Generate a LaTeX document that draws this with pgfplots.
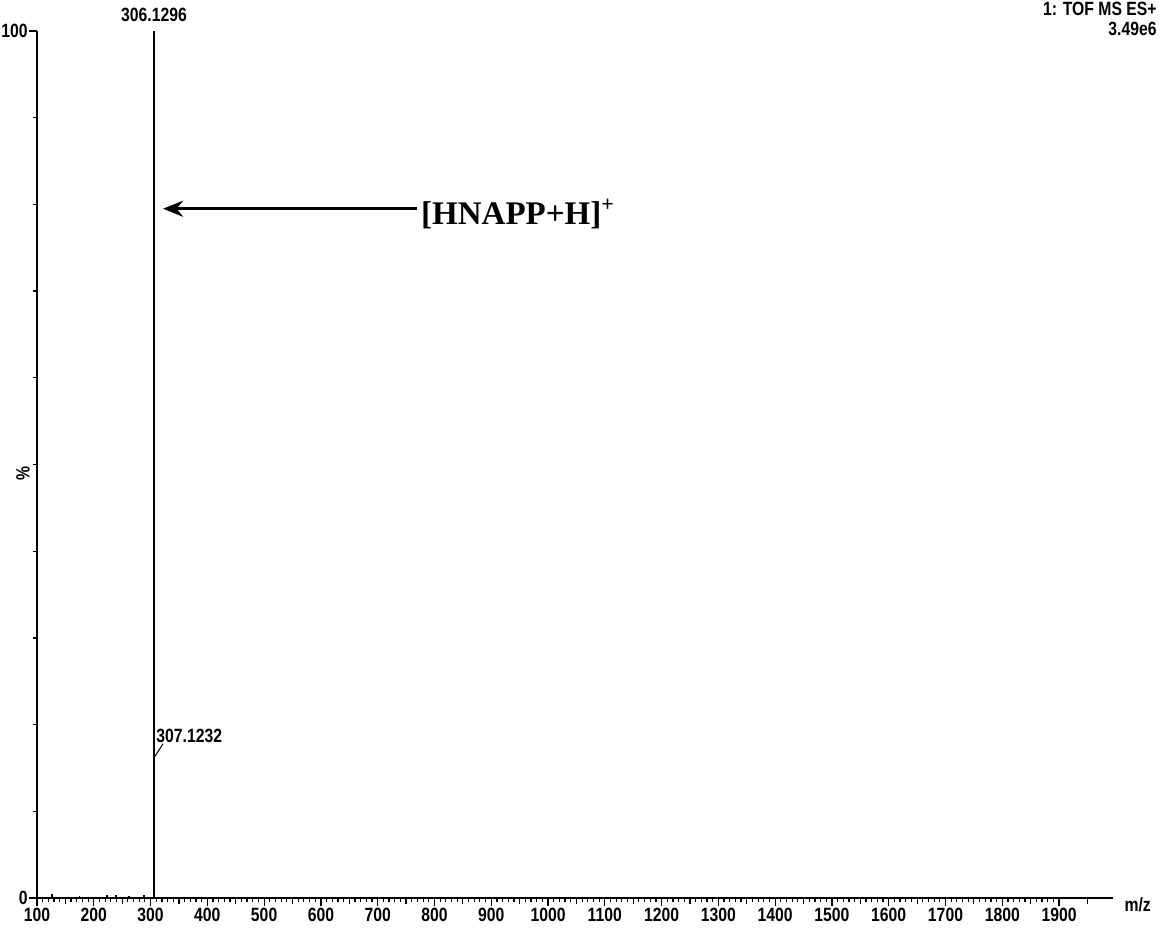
\documentclass[border=0pt]{standalone}
\usepackage{pgfplots}
\pgfplotsset{compat=1.18}
\usepackage{fontspec}
\setmainfont{Liberation Sans}
\newfontfamily\timesfont{Liberation Serif}
\newfontfamily\tickfont[FakeStretch=0.82]{Liberation Sans}
\newcommand\tf{\tickfont\fontsize{9.6}{10}\selectfont\bfseries}
\usetikzlibrary{arrows.meta}
\begin{document}
\begin{tikzpicture}
\begin{axis}[
  scale only axis,
  width=538pt, height=433.5pt,
  xmin=100, xmax=1995, ymin=0, ymax=100,
  axis x line=bottom, axis y line=left,
  axis line style={-, line width=0.7pt},
  clip=false,
  tick align=outside,
  xtick={100,200,...,1900},
  minor x tick num=9,
  extra x ticks={150,250,...,1950},
  extra x tick labels={},
  extra x tick style={major tick length=3pt, tick style={line width=0.6pt}},
  major tick length=4pt,
  minor tick length=2pt,
  ytick={0,100},
  minor y tick num=9,
  y tick label style={font=\tf, inner sep=0.5pt},
  x tick label style={font=\tf, inner sep=1pt},
  xticklabel style={/pgf/number format/1000 sep={}},
  /pgf/number format/assume math mode=true,
  tick style={black, line width=0.6pt},
]
\addplot[black, line width=0.8pt, ycomb, mark=none] coordinates {
 (306.13,100) (307.12,16.2) (126,0.5) (223,0.3) (239,0.3) (288,0.4) (262,0.2) (175,0.2)
};
\node[font=\tf, anchor=south] at (axis cs:306.13,100.3) {306.1296};
\node[font=\tf, anchor=south west, inner sep=1pt] at (axis cs:306.0,17.6) {307.1232};
\draw[black, line width=0.5pt] (axis cs:307.3,16.3) -- (axis cs:322,17.8);
\draw[black, line width=1.6pt, -{Stealth[length=10pt,width=8pt]}] (axis cs:770,79.5) -- (axis cs:322,79.5);
\node[font=\timesfont\fontsize{16.5}{18}\selectfont\bfseries, anchor=west, inner sep=0pt] at (axis cs:776,78.9) {[HNAPP+H]$^{\mbox{\timesfont\fontsize{11}{12}\selectfont+}}$};
\node[font=\tf, rotate=90] at ([xshift=-7pt]rel axis cs:0,0.49) {\%};
\node[font=\tf, anchor=west] at (axis cs:2003,-0.8) {m/z};
\coordinate (SW) at (rel axis cs:0,0);
\coordinate (NE) at (rel axis cs:1,1);
\end{axis}
\node[font=\tf, anchor=north east, align=right, inner sep=0pt] at ([shift={(22pt,14.5pt)}]NE) {1: TOF MS ES+\\3.49e6};
\pgfresetboundingbox
\path ([shift={(-18.5pt,-20pt)}]SW) rectangle ([shift={(24.5pt,15.5pt)}]NE);
\end{tikzpicture}
\end{document}
